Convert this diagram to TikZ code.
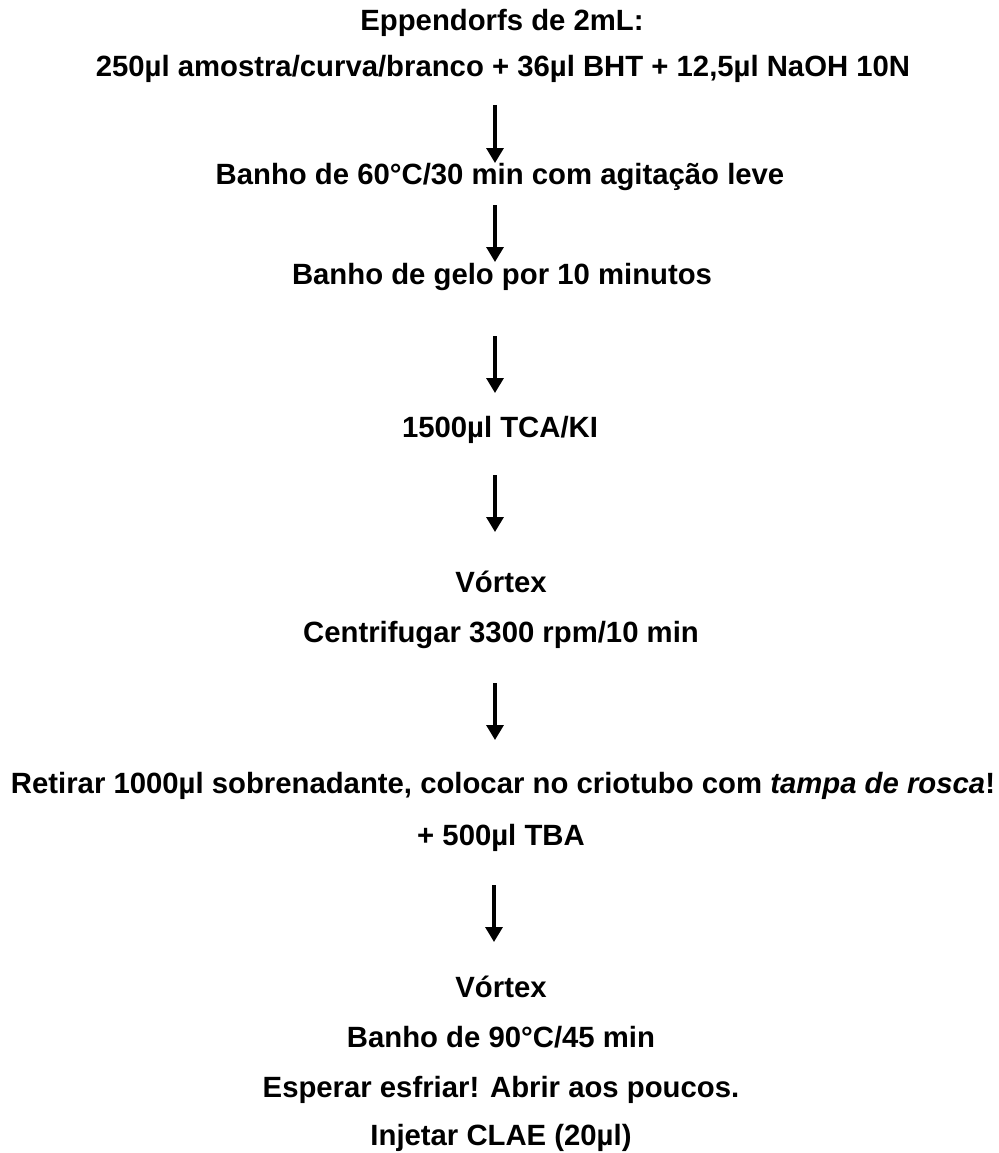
\documentclass[tikz,border=0pt]{standalone}
\usepackage{fontspec}
\setmainfont{Liberation Sans}
\usetikzlibrary{arrows.meta}
\tikzset{
  txt/.style={anchor=base, inner sep=0pt, font=\fontsize{29.3}{35}\selectfont\bfseries},
  flow/.style={line width=3.2pt, -{Triangle[width=17pt,length=15pt]}}
}
\begin{document}
\begin{tikzpicture}[x=1pt,y=-1pt]
\useasboundingbox[fill=white] (0,0) rectangle (998,1153);
\node[txt] (l1) at (502,31) {Eppendorfs de 2mL:};
\node[txt] (l2) at (503,77) {250µl amostra/curva/branco + 36µl BHT + 12,5µl NaOH 10N};
\node[txt] (l3) at (500,184) {Banho de 60°C/30 min com agitação leve};
\node[txt] (l4) at (502,284) {Banho de gelo por 10 minutos};
\node[txt] (l5) at (500,437) {1500µl TCA/KI};
\node[txt] (l6) at (501,592) {Vórtex};
\node[txt] (l7) at (501,642) {Centrifugar 3300 rpm/10 min};
\node[txt] (l8) at (503,793) {Retirar 1000µl sobrenadante, colocar no criotubo com \textit{tampa de rosca}!};
\node[txt] (l9) at (501,845) {+ 500µl TBA};
\node[txt] (l10) at (501,997) {Vórtex};
\node[txt] (l11) at (501,1047) {Banho de 90°C/45 min};
\node[txt] (l12) at (501,1097) {Esperar esfriar! Abrir aos poucos.};
\node[txt] (l13) at (501,1145) {Injetar CLAE (20µl)};
\coordinate (a1s) at (495,105); \coordinate (a1e) at (495,163);
\coordinate (a2s) at (495,205); \coordinate (a2e) at (495,262);
\coordinate (a3s) at (495,336); \coordinate (a3e) at (495,393);
\coordinate (a4s) at (495,475); \coordinate (a4e) at (495,532);
\coordinate (a5s) at (495,683); \coordinate (a5e) at (495,740);
\coordinate (a6s) at (494,885); \coordinate (a6e) at (494,942);
\draw[flow] (a1s) -- (a1e);
\draw[flow] (a2s) -- (a2e);
\draw[flow] (a3s) -- (a3e);
\draw[flow] (a4s) -- (a4e);
\draw[flow] (a5s) -- (a5e);
\draw[flow] (a6s) -- (a6e);
\end{tikzpicture}
\end{document}
